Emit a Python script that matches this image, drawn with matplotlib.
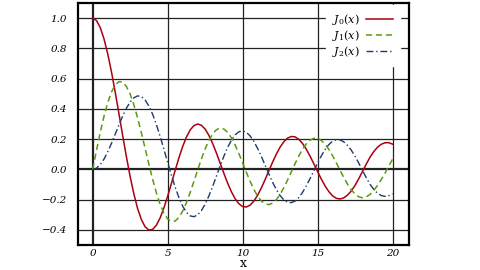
import matplotlib
matplotlib.use("Agg")
import matplotlib.pyplot as plt

# values, one every 0.25 from 0 to 20
x = [i / 4 for i in range(81)]
j0 = [1.0000, 0.9844, 0.9385, 0.8642, 0.7652, 0.6459, 0.5118, 0.3690, 0.2239, 0.0830,
      -0.0484, -0.1638, -0.2601, -0.3323, -0.3801, -0.4009, -0.3971, -0.3688, -0.3205,
      -0.2549, -0.1776, -0.0931, -0.0068, 0.0757, 0.1506, 0.2127, 0.2601, 0.2891,
      0.3001, 0.2916, 0.2663, 0.2250, 0.1717, 0.1092, 0.0419, -0.0258, -0.0903,
      -0.1471, -0.1939, -0.2270, -0.2459, -0.2486, -0.2366, -0.2098, -0.1712, -0.1226,
      -0.0677, -0.0097, 0.0477, 0.1008, 0.1469, 0.1826, 0.2069, 0.2174, 0.2150, 0.1988,
      0.1711, 0.1329, 0.0875, 0.0374, -0.0142, -0.0640, -0.1092, -0.1467, -0.1749,
      -0.1912, -0.1960, -0.1883, -0.1699, -0.1422, -0.1061, -0.0616, -0.0134, 0.0352,
      0.0805, 0.1176, 0.1466, 0.1660, 0.1760, 0.1766, 0.1670]
j1 = [0.0000, 0.1240, 0.2423, 0.3492, 0.4401, 0.5106, 0.5579, 0.5802, 0.5767, 0.5480,
      0.4971, 0.4257, 0.3391, 0.2411, 0.1374, 0.0334, -0.0660, -0.1552, -0.2311,
      -0.2888, -0.3276, -0.3446, -0.3414, -0.3176, -0.2767, -0.2205, -0.1538, -0.0803,
      -0.0047, 0.0684, 0.1352, 0.1912, 0.2346, 0.2618, 0.2731, 0.2669, 0.2453, 0.2089,
      0.1613, 0.1048, 0.0435, -0.0189, -0.0789, -0.1323, -0.1768, -0.2090, -0.2284,
      -0.2327, -0.2234, -0.2001, -0.1655, -0.1211, -0.0703, -0.0162, 0.0380, 0.0887,
      0.1334, 0.1686, 0.1934, 0.2054, 0.2051, 0.1917, 0.1672, 0.1324, 0.0904, 0.0433,
      -0.0057, -0.0536, -0.0977, -0.1349, -0.1636, -0.1813, -0.1880, -0.1820, -0.1655,
      -0.1392, -0.1057, -0.0675, -0.0253, 0.0215, 0.0668]
j2 = [0.0000, 0.0078, 0.0307, 0.0670, 0.1149, 0.1711, 0.2321, 0.2941, 0.3528, 0.4041,
      0.4461, 0.4734, 0.4861, 0.4807, 0.4586, 0.4187, 0.3641, 0.2958, 0.2178, 0.1333,
      0.0466, -0.0382, -0.1173, -0.1862, -0.2429, -0.2833, -0.3074, -0.3129, -0.3014,
      -0.2727, -0.2303, -0.1757, -0.1130, -0.0457, 0.0223, 0.0868, 0.1448, 0.1923,
      0.2278, 0.2485, 0.2546, 0.2449, 0.2216, 0.1852, 0.1390, 0.0854, 0.0280, -0.0299,
      -0.0849, -0.1335, -0.1734, -0.2016, -0.2177, -0.2198, -0.2094, -0.1859, -0.1520,
      -0.1092, -0.0608, -0.0095, 0.0416, 0.0891, 0.1308, 0.1635, 0.1862, 0.1965, 0.1953,
      0.1819, 0.1584, 0.1266, 0.0874, 0.0412, -0.0075, -0.0551, -0.0984, -0.1324,
      -0.1577, -0.1730, -0.1786, -0.1744, -0.1603]
xticks = [0, 5, 10, 15, 20]
yticks = [-0.4, -0.2, 0.0, 0.2, 0.4, 0.6, 0.8, 1.0]

plt.rcParams['mathtext.fontset'] = 'dejavuserif'

fig = plt.figure(figsize=(4.8, 2.7), dpi=100)
ax = fig.add_axes([78/480, 1-245/270, (409-78)/480, (245-3)/270])

for v in xticks:
    ax.axvline(v, color='#222222', lw=0.9 if v else 1.6, zorder=1)
for v in yticks:
    ax.axhline(v, color='#222222', lw=0.9 if v else 1.6, zorder=1)

ax.plot(x, j0, color='#aa0010', lw=1.1, label=r'$J_0(x)$', zorder=3)
ax.plot(x, j1, color='#5a9a10', lw=1.1, ls=(0, (4, 2.5)), label=r'$J_1(x)$', zorder=3)
ax.plot(x, j2, color='#1d3a6a', lw=1.0, ls=(0, (5, 2, 1, 2)), label=r'$J_2(x)$', zorder=3)

ax.set_xlim(-0.98, 21.1)
ax.set_ylim(-0.5, 1.1)
ax.set_xticks(xticks)
ax.set_yticks(yticks)
ax.set_xticklabels([str(v) for v in xticks], family='DejaVu Serif', style='italic', fontsize=7.5)
ax.set_yticklabels(['%.1f' % v if v >= 0 else '\u2212%.1f' % -v for v in yticks],
                   family='DejaVu Serif', style='italic', fontsize=7.5)
ax.tick_params(axis='x', length=0, pad=3)
ax.tick_params(axis='y', length=0, pad=8)
for s in ax.spines.values():
    s.set_linewidth(1.6)
    s.set_color('black')
    s.set_zorder(6)
ax.set_xlabel('x', family='DejaVu Serif', fontsize=9, labelpad=-1)

leg = ax.legend(loc='upper right', bbox_to_anchor=(1 - 9/331, 1 - 2/242),
                markerfirst=False, fontsize=8, handlelength=2.5,
                frameon=True, fancybox=False, framealpha=1, borderaxespad=0.0,
                borderpad=0.6, labelspacing=0.1, handletextpad=0.5)
leg.get_frame().set_edgecolor('white')
leg.get_frame().set_facecolor('white')
leg.set_zorder(5)

fig.savefig('out.png', dpi=100)
